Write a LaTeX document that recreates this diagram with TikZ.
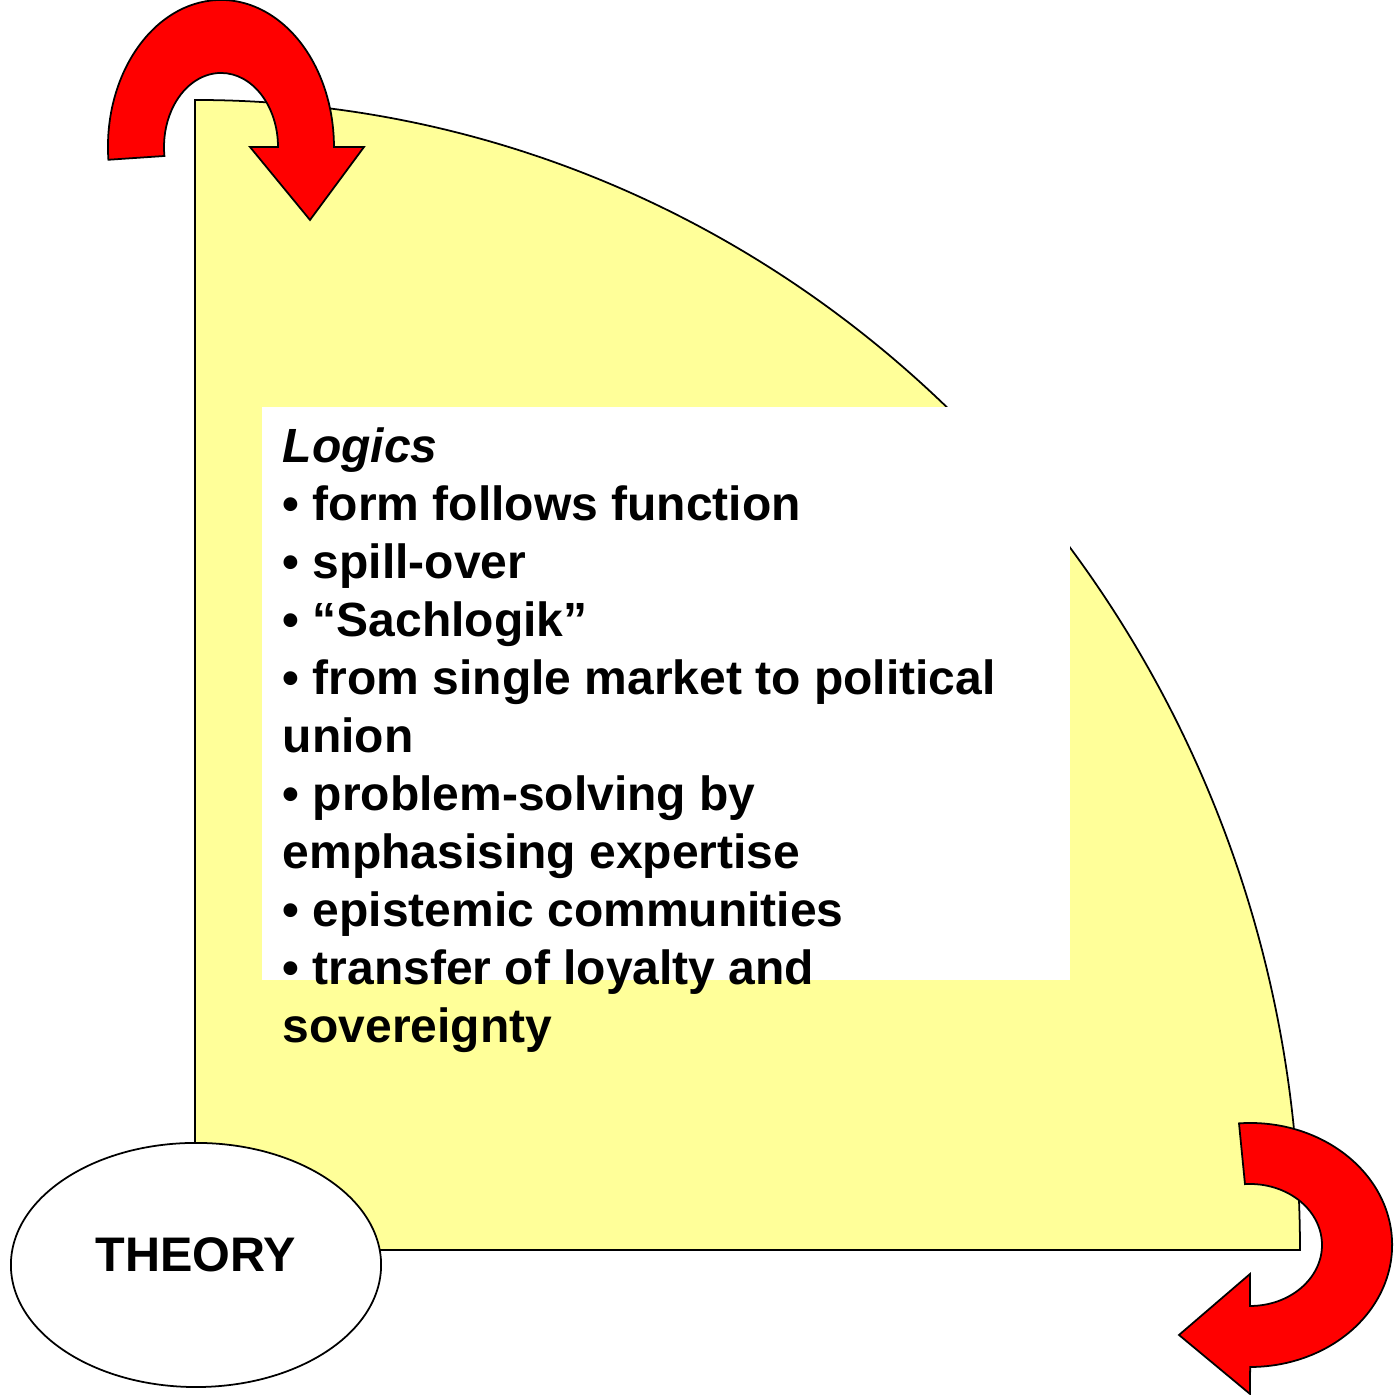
\documentclass[tikz,border=0pt]{standalone}
\usepackage{fontspec}
\setmainfont{Liberation Sans}
\definecolor{theoryyellow}{RGB}{255,255,153}
\definecolor{theoryred}{RGB}{255,0,0}
\usetikzlibrary{shapes.geometric}
\tikzset{
  turnarrow/.style={fill=theoryred, draw=black, line width=0.5pt, line join=miter},
  listfont/.style={font=\bfseries\fontsize{13.65}{16.5}\selectfont}
}

\begin{document}
\begin{tikzpicture}[x=0.01cm, y=0.01cm]
  \useasboundingbox (0,0) rectangle (1399,1395);

  % quarter field and the white list panel
  \draw [fill=theoryyellow, line width=0.5pt] (195,145) -- (195,1295)
    arc [start angle=90, end angle=0, x radius=1105, y radius=1150] -- cycle;
  \fill [white] (262,415) rectangle (1070,988);

  \node [listfont, align=left, anchor=north west, inner sep=0pt] (logics) at (282,968)
    {\textit{Logics}\\
     • form follows function\\
     • spill-over\\
     • “Sachlogik”\\
     • from single market to political\\
     union\\
     • problem-solving by\\
     emphasising expertise\\
     • epistemic communities\\
     • transfer of loyalty and\\
     sovereignty};

  \node [ellipse, draw, fill=white, line width=0.5pt, minimum width=3.7cm, minimum height=2.44cm,
    font=\bfseries\fontsize{13.8}{16.5}\selectfont, text height=0.36cm, text depth=0.22cm]
    (theory) at (196,130) {THEORY};

  % turning arrows
  \draw [turnarrow] (108.4,1235.2)
    arc [start angle=185, end angle=0, x radius=113, y radius=147]
    -- (364,1248) -- (310,1175) -- (250,1248) -- (278,1248)
    arc [start angle=0, end angle=187, x radius=57, y radius=74] -- cycle;
  \draw [turnarrow] (1239,271.6)
    arc [start angle=94.5, end angle=-90, x radius=142, y radius=122]
    -- (1250,1) -- (1179,60) -- (1250,121) -- (1250,89)
    arc [start angle=-90, end angle=94, x radius=72, y radius=61] -- cycle;

\end{tikzpicture}
\end{document}
